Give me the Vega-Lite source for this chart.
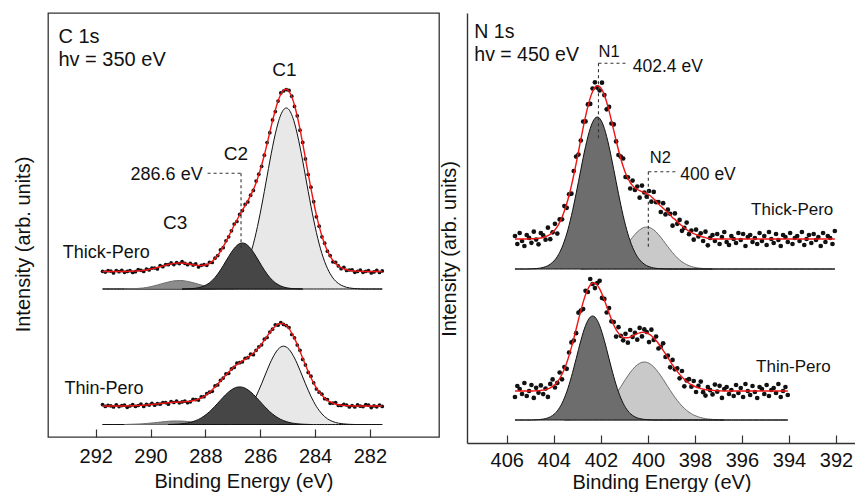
{
"$schema":"https://vega.github.io/schema/vega-lite/v6.json",
"background":"white",
"padding":{"left":12,"top":12,"right":0,"bottom":0},
"spacing":28,
"bounds":"flush",
"config":{
 "font":"Liberation Sans",
 "view":{"stroke":"#333","strokeWidth":1.3},
 "axis":{"labelFont":"Liberation Sans","titleFont":"Liberation Sans","labelFontSize":20,"titleFontSize":20,"titleFontWeight":"normal","labelColor":"#111","titleColor":"#111","grid":false,"tickColor":"#333","tickWidth":1.2,"domainColor":"#333","domainWidth":1.4,"labelFlush":false}
},
"datasets":{
"cTk":[
{"e":281.55,"fit":165.5,"obs":166.1,"c1":148},
{"e":281.65,"fit":165.5,"obs":164.5,"c1":148},
{"e":281.75,"fit":165.5,"obs":166.7,"c1":148},
{"e":281.85,"fit":165.5,"obs":165.1,"c1":148},
{"e":281.95,"fit":165.5,"obs":164.1,"c1":148},
{"e":282.05,"fit":165.5,"obs":166.3,"c1":148},
{"e":282.15,"fit":165.5,"obs":165.7,"c1":148},
{"e":282.25,"fit":165.5,"obs":164.7,"c1":148},
{"e":282.35,"fit":165.6,"obs":167.0,"c1":148.1},
{"e":282.45,"fit":165.8,"obs":165.6,"c1":148.3},
{"e":282.55,"fit":165.9,"obs":164.7,"c1":148.4},
{"e":282.65,"fit":166.2,"obs":167.2,"c1":148.7},
{"e":282.75,"fit":166.6,"obs":167.0,"c1":149.1},
{"e":282.85,"fit":167.2,"obs":166.6,"c1":149.7},
{"e":282.95,"fit":168.1,"obs":169.7,"c1":150.6},
{"e":283.05,"fit":169.3,"obs":168.3,"c1":151.8},
{"e":283.15,"fit":171.1,"obs":171.1,"c1":153.6},
{"e":283.25,"fit":173.4,"obs":174.6,"c1":155.9},
{"e":283.35,"fit":176.6,"obs":175.2,"c1":159.1},
{"e":283.45,"fit":180.8,"obs":181.4,"c1":163.3},
{"e":283.55,"fit":186.2,"obs":185.8,"c1":168.7},
{"e":283.65,"fit":192.8,"obs":193.8,"c1":175.3},
{"e":283.75,"fit":201.0,"obs":200.2,"c1":183.5},
{"e":283.85,"fit":210.6,"obs":210.8,"c1":193.1},
{"e":283.95,"fit":221.8,"obs":220.2,"c1":204.3},
{"e":284.05,"fit":234.5,"obs":235.3,"c1":217.0},
{"e":284.15,"fit":248.4,"obs":249.8,"c1":230.9},
{"e":284.25,"fit":263.1,"obs":262.5,"c1":245.6},
{"e":284.35,"fit":278.3,"obs":278.1,"c1":260.8},
{"e":284.45,"fit":293.4,"obs":294.6,"c1":275.9,"c2":148},
{"e":284.55,"fit":307.8,"obs":306.8,"c1":290.2,"c2":148.1},
{"e":284.65,"fit":320.8,"obs":321.2,"c1":303.1,"c2":148.2},
{"e":284.75,"fit":331.8,"obs":330.6,"c1":314.0,"c2":148.3},
{"e":284.85,"fit":340.2,"obs":340.8,"c1":322.2,"c2":148.5},
{"e":284.95,"fit":345.6,"obs":346.6,"c1":327.3,"c2":148.8},
{"e":285.05,"fit":347.8,"obs":347.4,"c1":329.0,"c2":149.3},
{"e":285.15,"fit":346.8,"obs":346.0,"c1":327.3,"c2":150.0},
{"e":285.25,"fit":342.7,"obs":344.1,"c1":322.2,"c2":151.0},
{"e":285.35,"fit":335.9,"obs":335.9,"c1":314.0,"c2":152.4},
{"e":285.45,"fit":326.8,"obs":325.4,"c1":303.1,"c2":154.2},
{"e":285.55,"fit":316.3,"obs":317.1,"c1":290.2,"c2":156.6},
{"e":285.65,"fit":304.9,"obs":304.3,"c1":275.9,"c2":159.5},
{"e":285.75,"fit":293.2,"obs":294.4,"c1":260.8,"c2":162.9},
{"e":285.85,"fit":282.0,"obs":281.8,"c1":245.6,"c2":166.9},
{"e":285.95,"fit":271.7,"obs":270.7,"c1":230.9,"c2":171.3},
{"e":286.05,"fit":262.4,"obs":262.8,"c1":217.0,"c2":175.9},
{"e":286.15,"fit":254.3,"obs":255.9,"c1":204.3,"c2":180.5},
{"e":286.25,"fit":247.4,"obs":246.6,"c1":193.1,"c2":184.8},
{"e":286.35,"fit":241.6,"obs":241.8,"c1":183.5,"c2":188.6},
{"e":286.45,"fit":236.3,"obs":235.1,"c1":175.3,"c2":191.5},
{"e":286.55,"fit":231.6,"obs":232.6,"c1":168.7,"c2":193.4},
{"e":286.65,"fit":226.8,"obs":226.4,"c1":163.3,"c2":194.0},
{"e":286.75,"fit":222.0,"obs":222.6,"c1":159.1,"c2":193.4},
{"e":286.85,"fit":216.9,"obs":215.5,"c1":155.9,"c2":191.5},
{"e":286.95,"fit":211.7,"obs":212.9,"c1":153.6,"c2":188.6,"c3":148},
{"e":287.05,"fit":206.2,"obs":206.2,"c1":151.8,"c2":184.8,"c3":148.1},
{"e":287.15,"fit":200.8,"obs":200.2,"c1":150.6,"c2":180.5,"c3":148.2},
{"e":287.25,"fit":195.4,"obs":196.2,"c1":149.7,"c2":175.9,"c3":148.3},
{"e":287.35,"fit":190.3,"obs":189.3,"c1":149.1,"c2":171.3,"c3":148.4},
{"e":287.45,"fit":185.7,"obs":187.1,"c1":148.7,"c2":166.9,"c3":148.6},
{"e":287.55,"fit":181.6,"obs":181.4,"c1":148.4,"c2":162.9,"c3":148.8},
{"e":287.65,"fit":178.4,"obs":178.8,"c1":148.3,"c2":159.5,"c3":149.1},
{"e":287.75,"fit":175.7,"obs":174.5,"c1":148.1,"c2":156.6,"c3":149.5},
{"e":287.85,"fit":173.7,"obs":174.7,"c1":148,"c2":154.2,"c3":150.0},
{"e":287.95,"fit":172.5,"obs":171.7,"c1":148,"c2":152.4,"c3":150.6},
{"e":288.05,"fit":171.8,"obs":172.4,"c1":148,"c2":151.0,"c3":151.3},
{"e":288.15,"fit":171.5,"obs":171.7,"c1":148,"c2":150.0,"c3":152.0},
{"e":288.25,"fit":171.6,"obs":170.0,"c1":148,"c2":149.3,"c3":152.8},
{"e":288.35,"fit":171.9,"obs":173.1,"c1":148,"c2":148.8,"c3":153.6},
{"e":288.45,"fit":172.3,"obs":171.9,"c1":148,"c2":148.5,"c3":154.3},
{"e":288.55,"fit":172.8,"obs":173.6,"c1":148,"c2":148.3,"c3":155.0},
{"e":288.65,"fit":173.3,"obs":172.3,"c1":148,"c2":148.2,"c3":155.6},
{"e":288.75,"fit":173.7,"obs":173.7,"c1":148,"c2":148.1,"c3":156.1},
{"e":288.85,"fit":173.9,"obs":175.3,"c1":148,"c2":148,"c3":156.4},
{"e":288.95,"fit":174.0,"obs":173.4,"c1":148,"c3":156.5},
{"e":289.05,"fit":173.9,"obs":174.3,"c1":148,"c3":156.4},
{"e":289.15,"fit":173.6,"obs":172.4,"c1":148,"c3":156.1},
{"e":289.25,"fit":173.1,"obs":174.1,"c1":148,"c3":155.6},
{"e":289.35,"fit":172.5,"obs":172.3,"c1":148,"c3":155.0},
{"e":289.45,"fit":171.8,"obs":172.4,"c1":148,"c3":154.3},
{"e":289.55,"fit":171.1,"obs":170.3,"c1":148,"c3":153.6},
{"e":289.65,"fit":170.3,"obs":171.5,"c1":148,"c3":152.8},
{"e":289.75,"fit":169.5,"obs":168.1,"c1":148,"c3":152.0},
{"e":289.85,"fit":168.8,"obs":169.0,"c1":148,"c3":151.3},
{"e":289.95,"fit":168.1,"obs":168.9,"c1":148,"c3":150.6},
{"e":290.05,"fit":167.5,"obs":167.1,"c1":148,"c3":150.0},
{"e":290.15,"fit":167.0,"obs":168.0,"c1":148,"c3":149.5},
{"e":290.25,"fit":166.6,"obs":165.6,"c1":148,"c3":149.1},
{"e":290.35,"fit":166.3,"obs":166.7,"c1":148,"c3":148.8},
{"e":290.45,"fit":166.1,"obs":167.5,"c1":148,"c3":148.6},
{"e":290.55,"fit":165.9,"obs":165.3,"c1":148,"c3":148.4},
{"e":290.65,"fit":165.8,"obs":164.6,"c1":148,"c3":148.3},
{"e":290.75,"fit":165.7,"obs":166.3,"c1":148,"c3":148.2},
{"e":290.85,"fit":165.6,"obs":165.6,"c1":148,"c3":148.1},
{"e":290.95,"fit":165.5,"obs":164.7,"c1":148,"c3":148},
{"e":291.05,"fit":165.5,"obs":166.7,"c1":148},
{"e":291.15,"fit":165.5,"obs":165.3,"c1":148},
{"e":291.25,"fit":165.5,"obs":166.5,"c1":148},
{"e":291.35,"fit":165.5,"obs":164.1,"c1":148},
{"e":291.45,"fit":165.5,"obs":165.9,"c1":148},
{"e":291.55,"fit":165.5,"obs":166.3,"c1":148},
{"e":291.65,"fit":165.5,"obs":164.9,"c1":148},
{"e":291.75,"fit":165.5,"obs":165.7,"c1":148}
],
"cTn":[
{"e":281.55,"fit":31.0,"obs":30.6,"c1":12.5},
{"e":281.65,"fit":31.0,"obs":32.0,"c1":12.5},
{"e":281.75,"fit":31.0,"obs":30.2,"c1":12.5},
{"e":281.85,"fit":31.0,"obs":31.2,"c1":12.5},
{"e":281.95,"fit":31.0,"obs":29.4,"c1":12.5},
{"e":282.05,"fit":31.0,"obs":31.8,"c1":12.5},
{"e":282.15,"fit":31.0,"obs":32.4,"c1":12.5},
{"e":282.25,"fit":31.0,"obs":30.4,"c1":12.5},
{"e":282.35,"fit":31.0,"obs":30.8,"c1":12.5},
{"e":282.45,"fit":31.0,"obs":32.2,"c1":12.5},
{"e":282.55,"fit":31.0,"obs":30.0,"c1":12.5},
{"e":282.65,"fit":31.1,"obs":31.5,"c1":12.6},
{"e":282.75,"fit":31.2,"obs":30.0,"c1":12.7},
{"e":282.85,"fit":31.4,"obs":32.0,"c1":12.9},
{"e":282.95,"fit":31.6,"obs":32.6,"c1":13.1},
{"e":283.05,"fit":31.9,"obs":31.5,"c1":13.4},
{"e":283.15,"fit":32.3,"obs":31.5,"c1":13.8},
{"e":283.25,"fit":33.0,"obs":34.4,"c1":14.5},
{"e":283.35,"fit":33.9,"obs":33.9,"c1":15.4},
{"e":283.45,"fit":35.1,"obs":33.7,"c1":16.6},
{"e":283.55,"fit":36.7,"obs":37.5,"c1":18.2},
{"e":283.65,"fit":38.9,"obs":38.3,"c1":20.4},
{"e":283.75,"fit":41.6,"obs":42.8,"c1":23.1},
{"e":283.85,"fit":45.0,"obs":44.8,"c1":26.5},
{"e":283.95,"fit":49.0,"obs":48.0,"c1":30.5},
{"e":284.05,"fit":53.8,"obs":54.2,"c1":35.3},
{"e":284.15,"fit":59.2,"obs":60.8,"c1":40.7,"c2":12.5},
{"e":284.25,"fit":65.4,"obs":64.6,"c1":46.8,"c2":12.6},
{"e":284.35,"fit":71.9,"obs":72.1,"c1":53.2,"c2":12.7},
{"e":284.45,"fit":78.8,"obs":77.6,"c1":60.0,"c2":12.8},
{"e":284.55,"fit":85.7,"obs":86.7,"c1":66.7,"c2":13.0},
{"e":284.65,"fit":92.4,"obs":92.0,"c1":73.2,"c2":13.2},
{"e":284.75,"fit":98.6,"obs":99.2,"c1":79.0,"c2":13.6},
{"e":284.85,"fit":103.9,"obs":102.5,"c1":83.9,"c2":14.0},
{"e":284.95,"fit":108.3,"obs":109.5,"c1":87.7,"c2":14.6},
{"e":285.05,"fit":111.4,"obs":111.4,"c1":90.0,"c2":15.4},
{"e":285.15,"fit":113.2,"obs":112.6,"c1":90.8,"c2":16.4},
{"e":285.25,"fit":113.6,"obs":114.4,"c1":90.0,"c2":17.6},
{"e":285.35,"fit":112.8,"obs":111.8,"c1":87.7,"c2":19.1},
{"e":285.45,"fit":110.8,"obs":112.2,"c1":83.9,"c2":20.9},
{"e":285.55,"fit":108.0,"obs":107.8,"c1":79.0,"c2":23.0},
{"e":285.65,"fit":104.5,"obs":104.9,"c1":73.2,"c2":25.3},
{"e":285.75,"fit":100.7,"obs":99.5,"c1":66.7,"c2":28.0},
{"e":285.85,"fit":96.8,"obs":97.8,"c1":60.0,"c2":30.8},
{"e":285.95,"fit":93.0,"obs":92.2,"c1":53.2,"c2":33.8},
{"e":286.05,"fit":89.6,"obs":90.2,"c1":46.8,"c2":36.8},
{"e":286.15,"fit":86.5,"obs":86.7,"c1":40.7,"c2":39.8},
{"e":286.25,"fit":83.9,"obs":82.3,"c1":35.3,"c2":42.6},
{"e":286.35,"fit":81.6,"obs":82.8,"c1":30.5,"c2":45.1},
{"e":286.45,"fit":79.7,"obs":79.3,"c1":26.5,"c2":47.2},
{"e":286.55,"fit":77.9,"obs":78.7,"c1":23.1,"c2":48.8},
{"e":286.65,"fit":76.2,"obs":75.2,"c1":20.4,"c2":49.8},
{"e":286.75,"fit":74.3,"obs":74.3,"c1":18.2,"c2":50.1},
{"e":286.85,"fit":72.4,"obs":73.8,"c1":16.6,"c2":49.8},
{"e":286.95,"fit":70.2,"obs":69.6,"c1":15.4,"c2":48.8},
{"e":287.05,"fit":67.7,"obs":68.1,"c1":14.5,"c2":47.2},
{"e":287.15,"fit":64.9,"obs":63.7,"c1":13.8,"c2":45.1,"c3":12.5},
{"e":287.25,"fit":62.1,"obs":63.1,"c1":13.4,"c2":42.6,"c3":12.6},
{"e":287.35,"fit":59.1,"obs":58.9,"c1":13.1,"c2":39.8,"c3":12.7},
{"e":287.45,"fit":56.0,"obs":56.6,"c1":12.9,"c2":36.8,"c3":12.8},
{"e":287.55,"fit":52.9,"obs":52.1,"c1":12.7,"c2":33.8,"c3":12.9},
{"e":287.65,"fit":49.9,"obs":51.1,"c1":12.6,"c2":30.8,"c3":13.0},
{"e":287.75,"fit":47.1,"obs":45.7,"c1":12.5,"c2":28.0,"c3":13.1},
{"e":287.85,"fit":44.6,"obs":44.8,"c1":12.5,"c2":25.3,"c3":13.3},
{"e":287.95,"fit":42.5,"obs":43.3,"c1":12.5,"c2":23.0,"c3":13.5},
{"e":288.05,"fit":40.7,"obs":40.3,"c1":12.5,"c2":20.9,"c3":13.8},
{"e":288.15,"fit":39.1,"obs":40.1,"c1":12.5,"c2":19.1,"c3":14.0},
{"e":288.25,"fit":37.9,"obs":36.9,"c1":12.5,"c2":17.6,"c3":14.3},
{"e":288.35,"fit":37.0,"obs":37.4,"c1":12.5,"c2":16.4,"c3":14.6},
{"e":288.45,"fit":36.3,"obs":37.7,"c1":12.5,"c2":15.4,"c3":14.9},
{"e":288.55,"fit":35.8,"obs":35.2,"c1":12.5,"c2":14.6,"c3":15.2},
{"e":288.65,"fit":35.5,"obs":34.3,"c1":12.5,"c2":14.0,"c3":15.5},
{"e":288.75,"fit":35.3,"obs":35.9,"c1":12.5,"c2":13.6,"c3":15.7},
{"e":288.85,"fit":35.1,"obs":35.1,"c1":12.5,"c2":13.2,"c3":15.9},
{"e":288.95,"fit":35.0,"obs":34.2,"c1":12.5,"c2":13.0,"c3":16.0},
{"e":289.05,"fit":34.8,"obs":36.0,"c1":12.5,"c2":12.8,"c3":16.0},
{"e":289.15,"fit":34.7,"obs":34.5,"c1":12.5,"c2":12.7,"c3":16.0},
{"e":289.25,"fit":34.5,"obs":35.5,"c1":12.5,"c2":12.6,"c3":15.9},
{"e":289.35,"fit":34.2,"obs":32.8,"c1":12.5,"c2":12.5,"c3":15.7},
{"e":289.45,"fit":34.0,"obs":34.4,"c1":12.5,"c3":15.5},
{"e":289.55,"fit":33.7,"obs":34.5,"c1":12.5,"c3":15.2},
{"e":289.65,"fit":33.4,"obs":32.8,"c1":12.5,"c3":14.9},
{"e":289.75,"fit":33.1,"obs":33.3,"c1":12.5,"c3":14.6},
{"e":289.85,"fit":32.8,"obs":31.8,"c1":12.5,"c3":14.3},
{"e":289.95,"fit":32.5,"obs":33.7,"c1":12.5,"c3":14.0},
{"e":290.05,"fit":32.3,"obs":31.9,"c1":12.5,"c3":13.8},
{"e":290.15,"fit":32.0,"obs":32.6,"c1":12.5,"c3":13.5},
{"e":290.25,"fit":31.8,"obs":30.6,"c1":12.5,"c3":13.3},
{"e":290.35,"fit":31.6,"obs":33.0,"c1":12.5,"c3":13.1},
{"e":290.45,"fit":31.5,"obs":31.5,"c1":12.5,"c3":13.0},
{"e":290.55,"fit":31.4,"obs":30.6,"c1":12.5,"c3":12.9},
{"e":290.65,"fit":31.3,"obs":32.3,"c1":12.5,"c3":12.8},
{"e":290.75,"fit":31.2,"obs":31.0,"c1":12.5,"c3":12.7},
{"e":290.85,"fit":31.1,"obs":29.7,"c1":12.5,"c3":12.6},
{"e":290.95,"fit":31.0,"obs":31.8,"c1":12.5,"c3":12.5},
{"e":291.05,"fit":31.0,"obs":31.4,"c1":12.5},
{"e":291.15,"fit":31.0,"obs":30.4,"c1":12.5},
{"e":291.25,"fit":31.0,"obs":32.2,"c1":12.5},
{"e":291.35,"fit":31.0,"obs":30.0,"c1":12.5},
{"e":291.45,"fit":31.0,"obs":31.2,"c1":12.5},
{"e":291.55,"fit":31.0,"obs":31.6,"c1":12.5},
{"e":291.65,"fit":31.0,"obs":30.6,"c1":12.5},
{"e":291.75,"fit":31.0,"obs":32.4,"c1":12.5}
],
"nTk":[
{"e":405.65,"fit":204,"obs":207,"n1":174},
{"e":405.55,"fit":204,"obs":199,"n1":174},
{"e":405.45,"fit":204,"obs":210,"n1":174},
{"e":405.35,"fit":204,"obs":202,"n1":174},
{"e":405.25,"fit":204,"obs":197,"n1":174},
{"e":405.15,"fit":204,"obs":208,"n1":174},
{"e":405.05,"fit":204.1,"obs":205.1,"n1":174.1},
{"e":404.95,"fit":204.2,"obs":200.2,"n1":174.2},
{"e":404.85,"fit":204.3,"obs":211.3,"n1":174.3},
{"e":404.75,"fit":204.4,"obs":203.4,"n1":174.4},
{"e":404.65,"fit":204.7,"obs":198.7,"n1":174.7},
{"e":404.55,"fit":205.0,"obs":210.0,"n1":175.0},
{"e":404.45,"fit":205.6,"obs":207.6,"n1":175.6},
{"e":404.35,"fit":206.3,"obs":203.3,"n1":176.3},
{"e":404.25,"fit":207.3,"obs":215.3,"n1":177.3},
{"e":404.15,"fit":208.8,"obs":203.8,"n1":178.8},
{"e":404.05,"fit":210.7,"obs":210.7,"n1":180.7},
{"e":403.95,"fit":213.2,"obs":219.2,"n1":183.2},
{"e":403.85,"fit":216.4,"obs":209.4,"n1":186.4},
{"e":403.75,"fit":220.6,"obs":223.6,"n1":190.6},
{"e":403.65,"fit":225.7,"obs":223.7,"n1":195.7},
{"e":403.55,"fit":231.9,"obs":236.9,"n1":201.9},
{"e":403.45,"fit":239.2,"obs":235.2,"n1":209.2},
{"e":403.35,"fit":247.7,"obs":248.7,"n1":217.7},
{"e":403.25,"fit":257.3,"obs":249.3,"n1":227.3},
{"e":403.15,"fit":268.0,"obs":272.0,"n1":238.0},
{"e":403.05,"fit":279.4,"obs":286.4,"n1":249.4},
{"e":402.95,"fit":291.4,"obs":288.4,"n1":261.4},
{"e":402.85,"fit":303.5,"obs":302.5,"n1":273.5,"n2":174},
{"e":402.75,"fit":315.4,"obs":321.4,"n1":285.3,"n2":174.1},
{"e":402.65,"fit":326.6,"obs":321.6,"n1":296.4,"n2":174.2},
{"e":402.55,"fit":336.6,"obs":338.6,"n1":306.3,"n2":174.3},
{"e":402.45,"fit":345.1,"obs":339.1,"n1":314.6,"n2":174.5},
{"e":402.35,"fit":351.5,"obs":354.5,"n1":320.8,"n2":174.7},
{"e":402.25,"fit":355.7,"obs":360.7,"n1":324.7,"n2":175.0},
{"e":402.15,"fit":357.3,"obs":355.3,"n1":326.0,"n2":175.3},
{"e":402.05,"fit":356.5,"obs":352.5,"n1":324.7,"n2":175.8},
{"e":401.95,"fit":353.3,"obs":360.3,"n1":320.8,"n2":176.5},
{"e":401.85,"fit":347.9,"obs":347.9,"n1":314.6,"n2":177.3},
{"e":401.75,"fit":340.7,"obs":333.7,"n1":306.3,"n2":178.4},
{"e":401.65,"fit":332.1,"obs":336.1,"n1":296.4,"n2":179.7},
{"e":401.55,"fit":322.5,"obs":319.5,"n1":285.3,"n2":181.2},
{"e":401.45,"fit":312.6,"obs":318.6,"n1":273.5,"n2":183.1},
{"e":401.35,"fit":302.6,"obs":301.6,"n1":261.4,"n2":185.2},
{"e":401.25,"fit":293.0,"obs":288.0,"n1":249.4,"n2":187.6},
{"e":401.15,"fit":284.3,"obs":286.3,"n1":238.0,"n2":190.3},
{"e":401.05,"fit":276.5,"obs":284.5,"n1":227.3,"n2":193.2},
{"e":400.95,"fit":270.0,"obs":266.0,"n1":217.7,"n2":196.3},
{"e":400.85,"fit":264.7,"obs":265.7,"n1":209.2,"n2":199.5},
{"e":400.75,"fit":260.5,"obs":254.5,"n1":201.9,"n2":202.6},
{"e":400.65,"fit":257.4,"obs":262.4,"n1":195.7,"n2":205.7},
{"e":400.55,"fit":255.1,"obs":253.1,"n1":190.6,"n2":208.5},
{"e":400.45,"fit":253.5,"obs":256.5,"n1":186.4,"n2":211.1},
{"e":400.35,"fit":252.3,"obs":245.3,"n1":183.2,"n2":213.1},
{"e":400.25,"fit":251.4,"obs":257.4,"n1":180.7,"n2":214.7},
{"e":400.15,"fit":250.5,"obs":250.5,"n1":178.8,"n2":215.7},
{"e":400.05,"fit":249.3,"obs":246.3,"n1":177.3,"n2":216.0},
{"e":399.95,"fit":248.0,"obs":252.0,"n1":176.3,"n2":215.7},
{"e":399.85,"fit":246.3,"obs":241.3,"n1":175.6,"n2":214.7},
{"e":399.75,"fit":244.1,"obs":251.1,"n1":175.0,"n2":213.1},
{"e":399.65,"fit":241.8,"obs":240.8,"n1":174.7,"n2":211.1},
{"e":399.55,"fit":238.9,"obs":240.9,"n1":174.4,"n2":208.5},
{"e":399.45,"fit":237.0,"obs":231.0,"n1":174.3,"n2":205.7},
{"e":399.35,"fit":234.8,"obs":239.8,"n1":174.2,"n2":202.6},
{"e":399.25,"fit":232.6,"obs":228.6,"n1":174.1,"n2":199.5},
{"e":399.15,"fit":230.3,"obs":233.3,"n1":174,"n2":196.3},
{"e":399.05,"fit":228.2,"obs":229.2,"n1":174,"n2":193.2},
{"e":398.95,"fit":225.3,"obs":217.3,"n1":174,"n2":190.3},
{"e":398.85,"fit":223.6,"obs":229.6,"n1":174,"n2":187.6},
{"e":398.75,"fit":221.2,"obs":219.2,"n1":174,"n2":185.2},
{"e":398.65,"fit":219.1,"obs":223.1,"n1":174,"n2":183.1},
{"e":398.55,"fit":217.2,"obs":212.2,"n1":174,"n2":181.2},
{"e":398.45,"fit":215.2,"obs":215.2,"n1":174,"n2":179.7},
{"e":398.35,"fit":213.4,"obs":220.4,"n1":174,"n2":178.4},
{"e":398.25,"fit":211.8,"obs":208.8,"n1":174,"n2":177.3},
{"e":398.15,"fit":210.5,"obs":212.5,"n1":174,"n2":176.5},
{"e":398.05,"fit":209.3,"obs":203.3,"n1":174,"n2":175.8},
{"e":397.95,"fit":208.3,"obs":213.3,"n1":174,"n2":175.3},
{"e":397.85,"fit":207.5,"obs":206.5,"n1":174,"n2":175.0},
{"e":397.75,"fit":206.7,"obs":209.7,"n1":174,"n2":174.7},
{"e":397.65,"fit":206.0,"obs":202.0,"n1":174,"n2":174.5},
{"e":397.55,"fit":205.3,"obs":211.3,"n1":174,"n2":174.3},
{"e":397.45,"fit":204.7,"obs":197.7,"n1":174,"n2":174.2},
{"e":397.35,"fit":204.1,"obs":205.1,"n1":174,"n2":174.1},
{"e":397.25,"fit":204,"obs":208,"n1":174,"n2":174},
{"e":397.15,"fit":204,"obs":202,"n1":174},
{"e":397.05,"fit":204,"obs":209,"n1":174},
{"e":396.95,"fit":204,"obs":199,"n1":174},
{"e":396.85,"fit":204,"obs":206,"n1":174},
{"e":396.75,"fit":204,"obs":211,"n1":174},
{"e":396.65,"fit":204,"obs":201,"n1":174},
{"e":396.55,"fit":204,"obs":198,"n1":174},
{"e":396.45,"fit":204,"obs":207,"n1":174},
{"e":396.35,"fit":204,"obs":204,"n1":174},
{"e":396.25,"fit":204,"obs":200,"n1":174},
{"e":396.15,"fit":204,"obs":210,"n1":174},
{"e":396.05,"fit":204,"obs":203,"n1":174},
{"e":395.95,"fit":204,"obs":209,"n1":174},
{"e":395.85,"fit":204,"obs":197,"n1":174},
{"e":395.75,"fit":204,"obs":206,"n1":174},
{"e":395.65,"fit":204,"obs":208,"n1":174},
{"e":395.55,"fit":204,"obs":201,"n1":174},
{"e":395.45,"fit":204,"obs":205,"n1":174},
{"e":395.35,"fit":204,"obs":199,"n1":174},
{"e":395.25,"fit":204,"obs":210,"n1":174},
{"e":395.15,"fit":204,"obs":202,"n1":174},
{"e":395.05,"fit":204,"obs":207,"n1":174},
{"e":394.95,"fit":204,"obs":198,"n1":174},
{"e":394.85,"fit":204,"obs":211,"n1":174},
{"e":394.75,"fit":204,"obs":204,"n1":174},
{"e":394.65,"fit":204,"obs":200,"n1":174},
{"e":394.55,"fit":204,"obs":209,"n1":174},
{"e":394.45,"fit":204,"obs":203,"n1":174},
{"e":394.35,"fit":204,"obs":197,"n1":174},
{"e":394.25,"fit":204,"obs":208,"n1":174},
{"e":394.15,"fit":204,"obs":206,"n1":174},
{"e":394.05,"fit":204,"obs":201,"n1":174},
{"e":393.95,"fit":204,"obs":210,"n1":174},
{"e":393.85,"fit":204,"obs":199,"n1":174},
{"e":393.75,"fit":204,"obs":205,"n1":174},
{"e":393.65,"fit":204,"obs":207,"n1":174},
{"e":393.55,"fit":204,"obs":202,"n1":174},
{"e":393.45,"fit":204,"obs":211,"n1":174},
{"e":393.35,"fit":204,"obs":198,"n1":174},
{"e":393.25,"fit":204,"obs":204,"n1":174},
{"e":393.15,"fit":204,"obs":208,"n1":174},
{"e":393.05,"fit":204,"obs":200,"n1":174},
{"e":392.95,"fit":204,"obs":209,"n1":174},
{"e":392.85,"fit":204,"obs":203,"n1":174},
{"e":392.75,"fit":204,"obs":206,"n1":174},
{"e":392.65,"fit":204,"obs":197,"n1":174},
{"e":392.55,"fit":204,"obs":210,"n1":174},
{"e":392.45,"fit":204,"obs":201,"n1":174},
{"e":392.35,"fit":204,"obs":207,"n1":174},
{"e":392.25,"fit":204,"obs":205,"n1":174},
{"e":392.15,"fit":204,"obs":199,"n1":174},
{"e":392.05,"fit":204,"obs":212,"n1":174}
],
"nTn":[
{"e":405.65,"fit":52,"obs":46,"n1":23},
{"e":405.55,"fit":52,"obs":57,"n1":23},
{"e":405.45,"fit":52,"obs":54,"n1":23},
{"e":405.35,"fit":52,"obs":49,"n1":23},
{"e":405.25,"fit":52,"obs":60,"n1":23},
{"e":405.15,"fit":52,"obs":47,"n1":23},
{"e":405.05,"fit":52,"obs":52,"n1":23},
{"e":404.95,"fit":52,"obs":58,"n1":23},
{"e":404.85,"fit":52.1,"obs":45.1,"n1":23.1},
{"e":404.75,"fit":52.2,"obs":55.2,"n1":23.2},
{"e":404.65,"fit":52.3,"obs":50.3,"n1":23.3},
{"e":404.55,"fit":52.6,"obs":57.6,"n1":23.6},
{"e":404.45,"fit":52.9,"obs":48.9,"n1":23.9},
{"e":404.35,"fit":53.4,"obs":54.4,"n1":24.4},
{"e":404.25,"fit":54.1,"obs":46.1,"n1":25.1},
{"e":404.15,"fit":55.1,"obs":59.1,"n1":26.1},
{"e":404.05,"fit":56.6,"obs":63.6,"n1":27.6},
{"e":403.95,"fit":58.5,"obs":55.5,"n1":29.5},
{"e":403.85,"fit":61.1,"obs":60.1,"n1":32.1},
{"e":403.75,"fit":64.5,"obs":70.5,"n1":35.5},
{"e":403.65,"fit":68.7,"obs":63.7,"n1":39.7},
{"e":403.55,"fit":73.9,"obs":75.9,"n1":44.9,"n2":23},
{"e":403.45,"fit":80.2,"obs":74.2,"n1":51.1,"n2":23.1},
{"e":403.35,"fit":87.5,"obs":90.5,"n1":58.3,"n2":23.2},
{"e":403.25,"fit":95.6,"obs":100.6,"n1":66.3,"n2":23.3},
{"e":403.15,"fit":104.5,"obs":102.5,"n1":75.1,"n2":23.4},
{"e":403.05,"fit":113.8,"obs":109.8,"n1":84.2,"n2":23.6},
{"e":402.95,"fit":123.3,"obs":130.3,"n1":93.5,"n2":23.8},
{"e":402.85,"fit":132.4,"obs":132.4,"n1":102.4,"n2":24.0},
{"e":402.75,"fit":140.9,"obs":133.9,"n1":110.5,"n2":24.4},
{"e":402.65,"fit":148.2,"obs":152.2,"n1":117.4,"n2":24.8},
{"e":402.55,"fit":154.0,"obs":151.0,"n1":122.6,"n2":25.4},
{"e":402.45,"fit":158.0,"obs":164.0,"n1":125.9,"n2":26.1},
{"e":402.35,"fit":160.0,"obs":159.0,"n1":127.0,"n2":27.0},
{"e":402.25,"fit":159.9,"obs":154.9,"n1":125.9,"n2":28.0},
{"e":402.15,"fit":157.9,"obs":159.9,"n1":122.6,"n2":29.3},
{"e":402.05,"fit":154.2,"obs":162.2,"n1":117.4,"n2":30.8},
{"e":401.95,"fit":149.1,"obs":145.1,"n1":110.5,"n2":32.6},
{"e":401.85,"fit":143.1,"obs":144.1,"n1":102.4,"n2":34.7},
{"e":401.75,"fit":136.5,"obs":130.5,"n1":93.5,"n2":37.0},
{"e":401.65,"fit":129.9,"obs":134.9,"n1":84.2,"n2":39.7},
{"e":401.55,"fit":123.7,"obs":121.7,"n1":75.1,"n2":42.6},
{"e":401.45,"fit":118.0,"obs":121.0,"n1":66.3,"n2":45.7},
{"e":401.35,"fit":113.4,"obs":106.4,"n1":58.3,"n2":49.1},
{"e":401.25,"fit":109.8,"obs":115.8,"n1":51.1,"n2":52.7},
{"e":401.15,"fit":107.2,"obs":107.2,"n1":44.9,"n2":56.3},
{"e":401.05,"fit":105.7,"obs":102.7,"n1":39.7,"n2":60.0},
{"e":400.95,"fit":105.2,"obs":109.2,"n1":35.5,"n2":63.7},
{"e":400.85,"fit":105.3,"obs":100.3,"n1":32.1,"n2":67.2},
{"e":400.75,"fit":106.0,"obs":113.0,"n1":29.5,"n2":70.5},
{"e":400.65,"fit":107.1,"obs":106.1,"n1":27.6,"n2":73.5},
{"e":400.55,"fit":108.2,"obs":110.2,"n1":26.1,"n2":76.1},
{"e":400.45,"fit":109.3,"obs":103.3,"n1":25.1,"n2":78.2},
{"e":400.35,"fit":110.1,"obs":115.1,"n1":24.4,"n2":79.7},
{"e":400.25,"fit":110.6,"obs":106.6,"n1":23.9,"n2":80.7},
{"e":400.15,"fit":110.6,"obs":113.6,"n1":23.6,"n2":81.0},
{"e":400.05,"fit":110.0,"obs":111.0,"n1":23.3,"n2":80.7},
{"e":399.95,"fit":108.9,"obs":100.9,"n1":23.2,"n2":79.7},
{"e":399.85,"fit":107.3,"obs":113.3,"n1":23.1,"n2":78.2},
{"e":399.75,"fit":105.1,"obs":103.1,"n1":23,"n2":76.1},
{"e":399.65,"fit":102.5,"obs":106.5,"n1":23,"n2":73.5},
{"e":399.55,"fit":99.5,"obs":94.5,"n1":23,"n2":70.5},
{"e":399.45,"fit":96.2,"obs":96.2,"n1":23,"n2":67.2},
{"e":399.35,"fit":92.7,"obs":99.7,"n1":23,"n2":63.7},
{"e":399.25,"fit":89.0,"obs":86.0,"n1":23,"n2":60.0},
{"e":399.15,"fit":85.3,"obs":87.3,"n1":23,"n2":56.3},
{"e":399.05,"fit":81.7,"obs":75.7,"n1":23,"n2":52.7},
{"e":398.95,"fit":78.1,"obs":83.1,"n1":23,"n2":49.1},
{"e":398.85,"fit":74.7,"obs":73.7,"n1":23,"n2":45.7},
{"e":398.75,"fit":71.6,"obs":74.6,"n1":23,"n2":42.6},
{"e":398.65,"fit":68.7,"obs":64.7,"n1":23,"n2":39.7},
{"e":398.55,"fit":66.0,"obs":72.0,"n1":23,"n2":37.0},
{"e":398.45,"fit":63.7,"obs":56.7,"n1":23,"n2":34.7},
{"e":398.35,"fit":61.6,"obs":62.6,"n1":23,"n2":32.6},
{"e":398.25,"fit":59.8,"obs":63.8,"n1":23,"n2":30.8},
{"e":398.15,"fit":58.3,"obs":56.3,"n1":23,"n2":29.3},
{"e":398.05,"fit":57.0,"obs":62.0,"n1":23,"n2":28.0},
{"e":397.95,"fit":56.0,"obs":51.0,"n1":23,"n2":27.0},
{"e":397.85,"fit":55.1,"obs":57.1,"n1":23,"n2":26.1},
{"e":397.75,"fit":54.4,"obs":61.4,"n1":23,"n2":25.4},
{"e":397.65,"fit":53.8,"obs":50.8,"n1":23,"n2":24.8},
{"e":397.55,"fit":53.4,"obs":47.4,"n1":23,"n2":24.4},
{"e":397.45,"fit":53.0,"obs":56.0,"n1":23,"n2":24.0},
{"e":397.35,"fit":52.8,"obs":52.8,"n1":23,"n2":23.8},
{"e":397.25,"fit":52.6,"obs":48.6,"n1":23,"n2":23.6},
{"e":397.15,"fit":52.4,"obs":58.4,"n1":23,"n2":23.4},
{"e":397.05,"fit":52.3,"obs":51.3,"n1":23,"n2":23.3},
{"e":396.95,"fit":52.2,"obs":57.2,"n1":23,"n2":23.2},
{"e":396.85,"fit":52.1,"obs":45.1,"n1":23,"n2":23.1},
{"e":396.75,"fit":52,"obs":54,"n1":23,"n2":23},
{"e":396.65,"fit":52,"obs":56,"n1":23},
{"e":396.55,"fit":52,"obs":49,"n1":23},
{"e":396.45,"fit":52,"obs":53,"n1":23},
{"e":396.35,"fit":52,"obs":47,"n1":23},
{"e":396.25,"fit":52,"obs":58,"n1":23},
{"e":396.15,"fit":52,"obs":50,"n1":23},
{"e":396.05,"fit":52,"obs":55,"n1":23},
{"e":395.95,"fit":52,"obs":46,"n1":23},
{"e":395.85,"fit":52,"obs":59,"n1":23},
{"e":395.75,"fit":52,"obs":52,"n1":23},
{"e":395.65,"fit":52,"obs":48,"n1":23},
{"e":395.55,"fit":52,"obs":57,"n1":23},
{"e":395.45,"fit":52,"obs":51,"n1":23},
{"e":395.35,"fit":52,"obs":45,"n1":23},
{"e":395.25,"fit":52,"obs":56,"n1":23},
{"e":395.15,"fit":52,"obs":54,"n1":23},
{"e":395.05,"fit":52,"obs":49,"n1":23},
{"e":394.95,"fit":52,"obs":58,"n1":23},
{"e":394.85,"fit":52,"obs":47,"n1":23},
{"e":394.75,"fit":52,"obs":53,"n1":23},
{"e":394.65,"fit":52,"obs":55,"n1":23},
{"e":394.55,"fit":52,"obs":50,"n1":23},
{"e":394.45,"fit":52,"obs":59,"n1":23},
{"e":394.35,"fit":52,"obs":46,"n1":23},
{"e":394.25,"fit":52,"obs":52,"n1":23},
{"e":394.15,"fit":52,"obs":56,"n1":23},
{"e":394.05,"fit":52,"obs":48,"n1":23}
]
},
"hconcat":[
{
"width":391,"height":424,
"view":{"stroke":"#333","strokeWidth":1.3},
"layer":[
{"data":{"name":"cTk"},"mark":{"type":"area","fill":"#e8e8e8","stroke":"#111","strokeWidth":1,"interpolate":"monotone"},
 "encoding":{"x":{"field":"e","type":"quantitative","scale":{"domain":[279.48,293.74],"reverse":true,"nice":false,"zero":false},"axis":{"title":"Binding Energy (eV)","values":[282,284,286,288,290,292],"format":"d","tickSize":-8,"labelPadding":17,"titleY":34,"titleBaseline":"top","domain":false}},
 "y":{"field":"c1","type":"quantitative","scale":{"domain":[0,424],"nice":false,"zero":false},"axis":{"title":"Intensity (arb. units)","ticks":false,"labels":false,"domain":false,"titleX":-25,"titleY":231,"titleAngle":-90,"titleAlign":"center","titleBaseline":"middle"}},
 "y2":{"datum":148}}},
{"data":{"name":"cTk"},"mark":{"type":"area","fill":"#8c8c8c","stroke":"#6b6b6b","strokeWidth":1,"interpolate":"monotone"},
 "encoding":{"x":{"field":"e","type":"quantitative","scale":{"domain":[279.48,293.74],"reverse":true,"nice":false,"zero":false},"axis":{"title":"Binding Energy (eV)","values":[282,284,286,288,290,292],"format":"d","tickSize":-8,"labelPadding":17,"titleY":34,"titleBaseline":"top","domain":false}},
 "y":{"field":"c3","type":"quantitative","scale":{"domain":[0,424],"nice":false,"zero":false},"axis":{"title":"Intensity (arb. units)","ticks":false,"labels":false,"domain":false,"titleX":-25,"titleY":231,"titleAngle":-90,"titleAlign":"center","titleBaseline":"middle"}},
 "y2":{"datum":148}}},
{"data":{"name":"cTk"},"mark":{"type":"area","fill":"#464646","stroke":"#111","strokeWidth":1,"interpolate":"monotone"},
 "encoding":{"x":{"field":"e","type":"quantitative","scale":{"domain":[279.48,293.74],"reverse":true,"nice":false,"zero":false},"axis":{"title":"Binding Energy (eV)","values":[282,284,286,288,290,292],"format":"d","tickSize":-8,"labelPadding":17,"titleY":34,"titleBaseline":"top","domain":false}},
 "y":{"field":"c2","type":"quantitative","scale":{"domain":[0,424],"nice":false,"zero":false},"axis":{"title":"Intensity (arb. units)","ticks":false,"labels":false,"domain":false,"titleX":-25,"titleY":231,"titleAngle":-90,"titleAlign":"center","titleBaseline":"middle"}},
 "y2":{"datum":148}}},
{"data":{"name":"cTn"},"mark":{"type":"area","fill":"#e8e8e8","stroke":"#111","strokeWidth":1,"interpolate":"monotone"},
 "encoding":{"x":{"field":"e","type":"quantitative","scale":{"domain":[279.48,293.74],"reverse":true,"nice":false,"zero":false},"axis":{"title":"Binding Energy (eV)","values":[282,284,286,288,290,292],"format":"d","tickSize":-8,"labelPadding":17,"titleY":34,"titleBaseline":"top","domain":false}},
 "y":{"field":"c1","type":"quantitative","scale":{"domain":[0,424],"nice":false,"zero":false},"axis":{"title":"Intensity (arb. units)","ticks":false,"labels":false,"domain":false,"titleX":-25,"titleY":231,"titleAngle":-90,"titleAlign":"center","titleBaseline":"middle"}},
 "y2":{"datum":12.5}}},
{"data":{"name":"cTn"},"mark":{"type":"area","fill":"#8c8c8c","stroke":"#6b6b6b","strokeWidth":1,"interpolate":"monotone"},
 "encoding":{"x":{"field":"e","type":"quantitative","scale":{"domain":[279.48,293.74],"reverse":true,"nice":false,"zero":false},"axis":{"title":"Binding Energy (eV)","values":[282,284,286,288,290,292],"format":"d","tickSize":-8,"labelPadding":17,"titleY":34,"titleBaseline":"top","domain":false}},
 "y":{"field":"c3","type":"quantitative","scale":{"domain":[0,424],"nice":false,"zero":false},"axis":{"title":"Intensity (arb. units)","ticks":false,"labels":false,"domain":false,"titleX":-25,"titleY":231,"titleAngle":-90,"titleAlign":"center","titleBaseline":"middle"}},
 "y2":{"datum":12.5}}},
{"data":{"name":"cTn"},"mark":{"type":"area","fill":"#464646","stroke":"#111","strokeWidth":1,"interpolate":"monotone"},
 "encoding":{"x":{"field":"e","type":"quantitative","scale":{"domain":[279.48,293.74],"reverse":true,"nice":false,"zero":false},"axis":{"title":"Binding Energy (eV)","values":[282,284,286,288,290,292],"format":"d","tickSize":-8,"labelPadding":17,"titleY":34,"titleBaseline":"top","domain":false}},
 "y":{"field":"c2","type":"quantitative","scale":{"domain":[0,424],"nice":false,"zero":false},"axis":{"title":"Intensity (arb. units)","ticks":false,"labels":false,"domain":false,"titleX":-25,"titleY":231,"titleAngle":-90,"titleAlign":"center","titleBaseline":"middle"}},
 "y2":{"datum":12.5}}},
{"data":{"name":"cTk"},"mark":{"type":"point","filled":true,"size":14,"color":"#111","opacity":1},
 "encoding":{"x":{"field":"e","type":"quantitative","scale":{"domain":[279.48,293.74],"reverse":true,"nice":false,"zero":false},"axis":{"title":"Binding Energy (eV)","values":[282,284,286,288,290,292],"format":"d","tickSize":-8,"labelPadding":17,"titleY":34,"titleBaseline":"top","domain":false}},
 "y":{"field":"obs","type":"quantitative","scale":{"domain":[0,424],"nice":false,"zero":false},"axis":{"title":"Intensity (arb. units)","ticks":false,"labels":false,"domain":false,"titleX":-25,"titleY":231,"titleAngle":-90,"titleAlign":"center","titleBaseline":"middle"}}}},
{"data":{"name":"cTn"},"mark":{"type":"point","filled":true,"size":14,"color":"#111","opacity":1},
 "encoding":{"x":{"field":"e","type":"quantitative","scale":{"domain":[279.48,293.74],"reverse":true,"nice":false,"zero":false},"axis":{"title":"Binding Energy (eV)","values":[282,284,286,288,290,292],"format":"d","tickSize":-8,"labelPadding":17,"titleY":34,"titleBaseline":"top","domain":false}},
 "y":{"field":"obs","type":"quantitative","scale":{"domain":[0,424],"nice":false,"zero":false},"axis":{"title":"Intensity (arb. units)","ticks":false,"labels":false,"domain":false,"titleX":-25,"titleY":231,"titleAngle":-90,"titleAlign":"center","titleBaseline":"middle"}}}},
{"data":{"name":"cTk"},"mark":{"type":"line","color":"#f01414","strokeWidth":1.4,"interpolate":"monotone"},
 "encoding":{"x":{"field":"e","type":"quantitative","scale":{"domain":[279.48,293.74],"reverse":true,"nice":false,"zero":false},"axis":{"title":"Binding Energy (eV)","values":[282,284,286,288,290,292],"format":"d","tickSize":-8,"labelPadding":17,"titleY":34,"titleBaseline":"top","domain":false}},
 "y":{"field":"fit","type":"quantitative","scale":{"domain":[0,424],"nice":false,"zero":false},"axis":{"title":"Intensity (arb. units)","ticks":false,"labels":false,"domain":false,"titleX":-25,"titleY":231,"titleAngle":-90,"titleAlign":"center","titleBaseline":"middle"}}}},
{"data":{"name":"cTn"},"mark":{"type":"line","color":"#f01414","strokeWidth":1.4,"interpolate":"monotone"},
 "encoding":{"x":{"field":"e","type":"quantitative","scale":{"domain":[279.48,293.74],"reverse":true,"nice":false,"zero":false},"axis":{"title":"Binding Energy (eV)","values":[282,284,286,288,290,292],"format":"d","tickSize":-8,"labelPadding":17,"titleY":34,"titleBaseline":"top","domain":false}},
 "y":{"field":"fit","type":"quantitative","scale":{"domain":[0,424],"nice":false,"zero":false},"axis":{"title":"Intensity (arb. units)","ticks":false,"labels":false,"domain":false,"titleX":-25,"titleY":231,"titleAngle":-90,"titleAlign":"center","titleBaseline":"middle"}}}},
{"data":{"values":[{"e":287.92,"e2":286.7,"v":263.7,"v2":263.7},{"e":286.7,"e2":286.7,"v":263.7,"v2":187}]},
 "mark":{"type":"rule","color":"#333","strokeWidth":1.1,"strokeDash":[3,3]},
 "encoding":{"x":{"field":"e","type":"quantitative","scale":{"domain":[279.48,293.74],"reverse":true,"nice":false,"zero":false},"axis":{"title":"Binding Energy (eV)","values":[282,284,286,288,290,292],"format":"d","tickSize":-8,"labelPadding":17,"titleY":34,"titleBaseline":"top","domain":false}},
 "x2":{"field":"e2"},
 "y":{"field":"v","type":"quantitative","scale":{"domain":[0,424],"nice":false,"zero":false},"axis":{"title":"Intensity (arb. units)","ticks":false,"labels":false,"domain":false,"titleX":-25,"titleY":231,"titleAngle":-90,"titleAlign":"center","titleBaseline":"middle"}},
 "y2":{"field":"v2"}}},
{"data":{"values":[{"e":293.36,"v":394.3,"t":"C 1s"},{"e":293.36,"v":371,"t":"hv = 350 eV"}]},
 "mark":{"type":"text","align":"left","baseline":"alphabetic","fontSize":20,"color":"#111"},
 "encoding":{"x":{"field":"e","type":"quantitative","scale":{"domain":[279.48,293.74],"reverse":true,"nice":false,"zero":false},"axis":{"title":"Binding Energy (eV)","values":[282,284,286,288,290,292],"format":"d","tickSize":-8,"labelPadding":17,"titleY":34,"titleBaseline":"top","domain":false}},
 "y":{"field":"v","type":"quantitative","scale":{"domain":[0,424],"nice":false,"zero":false},"axis":{"title":"Intensity (arb. units)","ticks":false,"labels":false,"domain":false,"titleX":-25,"titleY":231,"titleAngle":-90,"titleAlign":"center","titleBaseline":"middle"}},
 "text":{"field":"t"}}},
{"data":{"values":[{"e":285.12,"v":361,"t":"C1"},{"e":286.89,"v":277,"t":"C2"},{"e":289.1,"v":208,"t":"C3"}]},
 "mark":{"type":"text","align":"center","baseline":"alphabetic","fontSize":19,"color":"#111"},
 "encoding":{"x":{"field":"e","type":"quantitative","scale":{"domain":[279.48,293.74],"reverse":true,"nice":false,"zero":false},"axis":{"title":"Binding Energy (eV)","values":[282,284,286,288,290,292],"format":"d","tickSize":-8,"labelPadding":17,"titleY":34,"titleBaseline":"top","domain":false}},
 "y":{"field":"v","type":"quantitative","scale":{"domain":[0,424],"nice":false,"zero":false},"axis":{"title":"Intensity (arb. units)","ticks":false,"labels":false,"domain":false,"titleX":-25,"titleY":231,"titleAngle":-90,"titleAlign":"center","titleBaseline":"middle"}},
 "text":{"field":"t"}}},
{"data":{"values":[{"e":288.1,"v":257,"t":"286.6 eV"}]},
 "mark":{"type":"text","align":"right","baseline":"alphabetic","fontSize":18,"color":"#111"},
 "encoding":{"x":{"field":"e","type":"quantitative","scale":{"domain":[279.48,293.74],"reverse":true,"nice":false,"zero":false},"axis":{"title":"Binding Energy (eV)","values":[282,284,286,288,290,292],"format":"d","tickSize":-8,"labelPadding":17,"titleY":34,"titleBaseline":"top","domain":false}},
 "y":{"field":"v","type":"quantitative","scale":{"domain":[0,424],"nice":false,"zero":false},"axis":{"title":"Intensity (arb. units)","ticks":false,"labels":false,"domain":false,"titleX":-25,"titleY":231,"titleAngle":-90,"titleAlign":"center","titleBaseline":"middle"}},
 "text":{"field":"t"}}},
{"data":{"values":[{"e":293.2,"v":178.7,"t":"Thick-Pero"},{"e":293.14,"v":43,"t":"Thin-Pero"}]},
 "mark":{"type":"text","align":"left","baseline":"alphabetic","fontSize":18,"color":"#111"},
 "encoding":{"x":{"field":"e","type":"quantitative","scale":{"domain":[279.48,293.74],"reverse":true,"nice":false,"zero":false},"axis":{"title":"Binding Energy (eV)","values":[282,284,286,288,290,292],"format":"d","tickSize":-8,"labelPadding":17,"titleY":34,"titleBaseline":"top","domain":false}},
 "y":{"field":"v","type":"quantitative","scale":{"domain":[0,424],"nice":false,"zero":false},"axis":{"title":"Intensity (arb. units)","ticks":false,"labels":false,"domain":false,"titleX":-25,"titleY":231,"titleAngle":-90,"titleAlign":"center","titleBaseline":"middle"}},
 "text":{"field":"t"}}}
]
},
{
"width":389,"height":430,
"view":{"stroke":null},
"layer":[
{"data":{"name":"nTk"},"mark":{"type":"area","fill":"#c9c9c9","stroke":"#6e6e6e","strokeWidth":1,"interpolate":"monotone"},
 "encoding":{"x":{"field":"e","type":"quantitative","scale":{"domain":[391.15,407.69],"reverse":true,"nice":false,"zero":false},"axis":{"title":"Binding Energy (eV)","values":[392,394,396,398,400,402,404,406],"format":"d","tickSize":-8,"labelPadding":15,"titleY":29,"titleBaseline":"top","domain":true}},
 "y":{"field":"n2","type":"quantitative","scale":{"domain":[0,430],"nice":false,"zero":false},"axis":{"title":"Intensity (arb. units)","ticks":false,"labels":false,"domain":true,"titleX":-18,"titleY":235.5,"titleAngle":-90,"titleAlign":"center","titleBaseline":"middle"}},
 "y2":{"datum":174}}},
{"data":{"name":"nTk"},"mark":{"type":"area","fill":"#6d6d6d","stroke":"#111","strokeWidth":1,"interpolate":"monotone"},
 "encoding":{"x":{"field":"e","type":"quantitative","scale":{"domain":[391.15,407.69],"reverse":true,"nice":false,"zero":false},"axis":{"title":"Binding Energy (eV)","values":[392,394,396,398,400,402,404,406],"format":"d","tickSize":-8,"labelPadding":15,"titleY":29,"titleBaseline":"top","domain":true}},
 "y":{"field":"n1","type":"quantitative","scale":{"domain":[0,430],"nice":false,"zero":false},"axis":{"title":"Intensity (arb. units)","ticks":false,"labels":false,"domain":true,"titleX":-18,"titleY":235.5,"titleAngle":-90,"titleAlign":"center","titleBaseline":"middle"}},
 "y2":{"datum":174}}},
{"data":{"name":"nTn"},"mark":{"type":"area","fill":"#c9c9c9","stroke":"#6e6e6e","strokeWidth":1,"interpolate":"monotone"},
 "encoding":{"x":{"field":"e","type":"quantitative","scale":{"domain":[391.15,407.69],"reverse":true,"nice":false,"zero":false},"axis":{"title":"Binding Energy (eV)","values":[392,394,396,398,400,402,404,406],"format":"d","tickSize":-8,"labelPadding":15,"titleY":29,"titleBaseline":"top","domain":true}},
 "y":{"field":"n2","type":"quantitative","scale":{"domain":[0,430],"nice":false,"zero":false},"axis":{"title":"Intensity (arb. units)","ticks":false,"labels":false,"domain":true,"titleX":-18,"titleY":235.5,"titleAngle":-90,"titleAlign":"center","titleBaseline":"middle"}},
 "y2":{"datum":23}}},
{"data":{"name":"nTn"},"mark":{"type":"area","fill":"#6d6d6d","stroke":"#111","strokeWidth":1,"interpolate":"monotone"},
 "encoding":{"x":{"field":"e","type":"quantitative","scale":{"domain":[391.15,407.69],"reverse":true,"nice":false,"zero":false},"axis":{"title":"Binding Energy (eV)","values":[392,394,396,398,400,402,404,406],"format":"d","tickSize":-8,"labelPadding":15,"titleY":29,"titleBaseline":"top","domain":true}},
 "y":{"field":"n1","type":"quantitative","scale":{"domain":[0,430],"nice":false,"zero":false},"axis":{"title":"Intensity (arb. units)","ticks":false,"labels":false,"domain":true,"titleX":-18,"titleY":235.5,"titleAngle":-90,"titleAlign":"center","titleBaseline":"middle"}},
 "y2":{"datum":23}}},
{"data":{"name":"nTk"},"mark":{"type":"point","filled":true,"size":22,"color":"#111","opacity":1},
 "encoding":{"x":{"field":"e","type":"quantitative","scale":{"domain":[391.15,407.69],"reverse":true,"nice":false,"zero":false},"axis":{"title":"Binding Energy (eV)","values":[392,394,396,398,400,402,404,406],"format":"d","tickSize":-8,"labelPadding":15,"titleY":29,"titleBaseline":"top","domain":true}},
 "y":{"field":"obs","type":"quantitative","scale":{"domain":[0,430],"nice":false,"zero":false},"axis":{"title":"Intensity (arb. units)","ticks":false,"labels":false,"domain":true,"titleX":-18,"titleY":235.5,"titleAngle":-90,"titleAlign":"center","titleBaseline":"middle"}}}},
{"data":{"name":"nTn"},"mark":{"type":"point","filled":true,"size":22,"color":"#111","opacity":1},
 "encoding":{"x":{"field":"e","type":"quantitative","scale":{"domain":[391.15,407.69],"reverse":true,"nice":false,"zero":false},"axis":{"title":"Binding Energy (eV)","values":[392,394,396,398,400,402,404,406],"format":"d","tickSize":-8,"labelPadding":15,"titleY":29,"titleBaseline":"top","domain":true}},
 "y":{"field":"obs","type":"quantitative","scale":{"domain":[0,430],"nice":false,"zero":false},"axis":{"title":"Intensity (arb. units)","ticks":false,"labels":false,"domain":true,"titleX":-18,"titleY":235.5,"titleAngle":-90,"titleAlign":"center","titleBaseline":"middle"}}}},
{"data":{"name":"nTk"},"mark":{"type":"line","color":"#f01414","strokeWidth":1.4,"interpolate":"monotone"},
 "encoding":{"x":{"field":"e","type":"quantitative","scale":{"domain":[391.15,407.69],"reverse":true,"nice":false,"zero":false},"axis":{"title":"Binding Energy (eV)","values":[392,394,396,398,400,402,404,406],"format":"d","tickSize":-8,"labelPadding":15,"titleY":29,"titleBaseline":"top","domain":true}},
 "y":{"field":"fit","type":"quantitative","scale":{"domain":[0,430],"nice":false,"zero":false},"axis":{"title":"Intensity (arb. units)","ticks":false,"labels":false,"domain":true,"titleX":-18,"titleY":235.5,"titleAngle":-90,"titleAlign":"center","titleBaseline":"middle"}}}},
{"data":{"name":"nTn"},"mark":{"type":"line","color":"#f01414","strokeWidth":1.4,"interpolate":"monotone"},
 "encoding":{"x":{"field":"e","type":"quantitative","scale":{"domain":[391.15,407.69],"reverse":true,"nice":false,"zero":false},"axis":{"title":"Binding Energy (eV)","values":[392,394,396,398,400,402,404,406],"format":"d","tickSize":-8,"labelPadding":15,"titleY":29,"titleBaseline":"top","domain":true}},
 "y":{"field":"fit","type":"quantitative","scale":{"domain":[0,430],"nice":false,"zero":false},"axis":{"title":"Intensity (arb. units)","ticks":false,"labels":false,"domain":true,"titleX":-18,"titleY":235.5,"titleAngle":-90,"titleAlign":"center","titleBaseline":"middle"}}}},
{"data":{"values":[{"e":402.1,"e2":400.86,"v":379.7,"v2":379.7},{"e":402.1,"e2":402.1,"v":379.7,"v2":304.7},{"e":399.98,"e2":398.7,"v":271.3,"v2":271.3},{"e":399.98,"e2":399.98,"v":271.3,"v2":196.3}]},
 "mark":{"type":"rule","color":"#333","strokeWidth":1.1,"strokeDash":[3,3]},
 "encoding":{"x":{"field":"e","type":"quantitative","scale":{"domain":[391.15,407.69],"reverse":true,"nice":false,"zero":false},"axis":{"title":"Binding Energy (eV)","values":[392,394,396,398,400,402,404,406],"format":"d","tickSize":-8,"labelPadding":15,"titleY":29,"titleBaseline":"top","domain":true}},
 "x2":{"field":"e2"},
 "y":{"field":"v","type":"quantitative","scale":{"domain":[0,430],"nice":false,"zero":false},"axis":{"title":"Intensity (arb. units)","ticks":false,"labels":false,"domain":true,"titleX":-18,"titleY":235.5,"titleAngle":-90,"titleAlign":"center","titleBaseline":"middle"}},
 "y2":{"field":"v2"}}},
{"mark":{"type":"rule","color":"#333","strokeWidth":1.5},
 "encoding":{"y":{"datum":430,"type":"quantitative","scale":{"domain":[0,430],"nice":false,"zero":false},"axis":{"title":"Intensity (arb. units)","ticks":false,"labels":false,"domain":true,"titleX":-18,"titleY":235.5,"titleAngle":-90,"titleAlign":"center","titleBaseline":"middle"}}}},
{"data":{"values":[{"e":407.38,"v":404.7,"t":"N 1s"},{"e":407.38,"v":382.3,"t":"hv = 450 eV"}]},
 "mark":{"type":"text","align":"left","baseline":"alphabetic","fontSize":19.5,"color":"#111"},
 "encoding":{"x":{"field":"e","type":"quantitative","scale":{"domain":[391.15,407.69],"reverse":true,"nice":false,"zero":false},"axis":{"title":"Binding Energy (eV)","values":[392,394,396,398,400,402,404,406],"format":"d","tickSize":-8,"labelPadding":15,"titleY":29,"titleBaseline":"top","domain":true}},
 "y":{"field":"v","type":"quantitative","scale":{"domain":[0,430],"nice":false,"zero":false},"axis":{"title":"Intensity (arb. units)","ticks":false,"labels":false,"domain":true,"titleX":-18,"titleY":235.5,"titleAngle":-90,"titleAlign":"center","titleBaseline":"middle"}},
 "text":{"field":"t"}}},
{"data":{"values":[{"e":401.65,"v":385.7,"t":"N1"},{"e":399.47,"v":279.7,"t":"N2"}]},
 "mark":{"type":"text","align":"center","baseline":"alphabetic","fontSize":16.5,"color":"#111"},
 "encoding":{"x":{"field":"e","type":"quantitative","scale":{"domain":[391.15,407.69],"reverse":true,"nice":false,"zero":false},"axis":{"title":"Binding Energy (eV)","values":[392,394,396,398,400,402,404,406],"format":"d","tickSize":-8,"labelPadding":15,"titleY":29,"titleBaseline":"top","domain":true}},
 "y":{"field":"v","type":"quantitative","scale":{"domain":[0,430],"nice":false,"zero":false},"axis":{"title":"Intensity (arb. units)","ticks":false,"labels":false,"domain":true,"titleX":-18,"titleY":235.5,"titleAngle":-90,"titleAlign":"center","titleBaseline":"middle"}},
 "text":{"field":"t"}}},
{"data":{"values":[{"e":400.64,"v":371.3,"t":"402.4 eV"},{"e":398.62,"v":263,"t":"400 eV"}]},
 "mark":{"type":"text","align":"left","baseline":"alphabetic","fontSize":17.5,"color":"#111"},
 "encoding":{"x":{"field":"e","type":"quantitative","scale":{"domain":[391.15,407.69],"reverse":true,"nice":false,"zero":false},"axis":{"title":"Binding Energy (eV)","values":[392,394,396,398,400,402,404,406],"format":"d","tickSize":-8,"labelPadding":15,"titleY":29,"titleBaseline":"top","domain":true}},
 "y":{"field":"v","type":"quantitative","scale":{"domain":[0,430],"nice":false,"zero":false},"axis":{"title":"Intensity (arb. units)","ticks":false,"labels":false,"domain":true,"titleX":-18,"titleY":235.5,"titleAngle":-90,"titleAlign":"center","titleBaseline":"middle"}},
 "text":{"field":"t"}}},
{"data":{"values":[{"e":395.61,"v":228,"t":"Thick-Pero"},{"e":395.4,"v":71.3,"t":"Thin-Pero"}]},
 "mark":{"type":"text","align":"left","baseline":"alphabetic","fontSize":17,"color":"#111"},
 "encoding":{"x":{"field":"e","type":"quantitative","scale":{"domain":[391.15,407.69],"reverse":true,"nice":false,"zero":false},"axis":{"title":"Binding Energy (eV)","values":[392,394,396,398,400,402,404,406],"format":"d","tickSize":-8,"labelPadding":15,"titleY":29,"titleBaseline":"top","domain":true}},
 "y":{"field":"v","type":"quantitative","scale":{"domain":[0,430],"nice":false,"zero":false},"axis":{"title":"Intensity (arb. units)","ticks":false,"labels":false,"domain":true,"titleX":-18,"titleY":235.5,"titleAngle":-90,"titleAlign":"center","titleBaseline":"middle"}},
 "text":{"field":"t"}}}
]
}
]
}
